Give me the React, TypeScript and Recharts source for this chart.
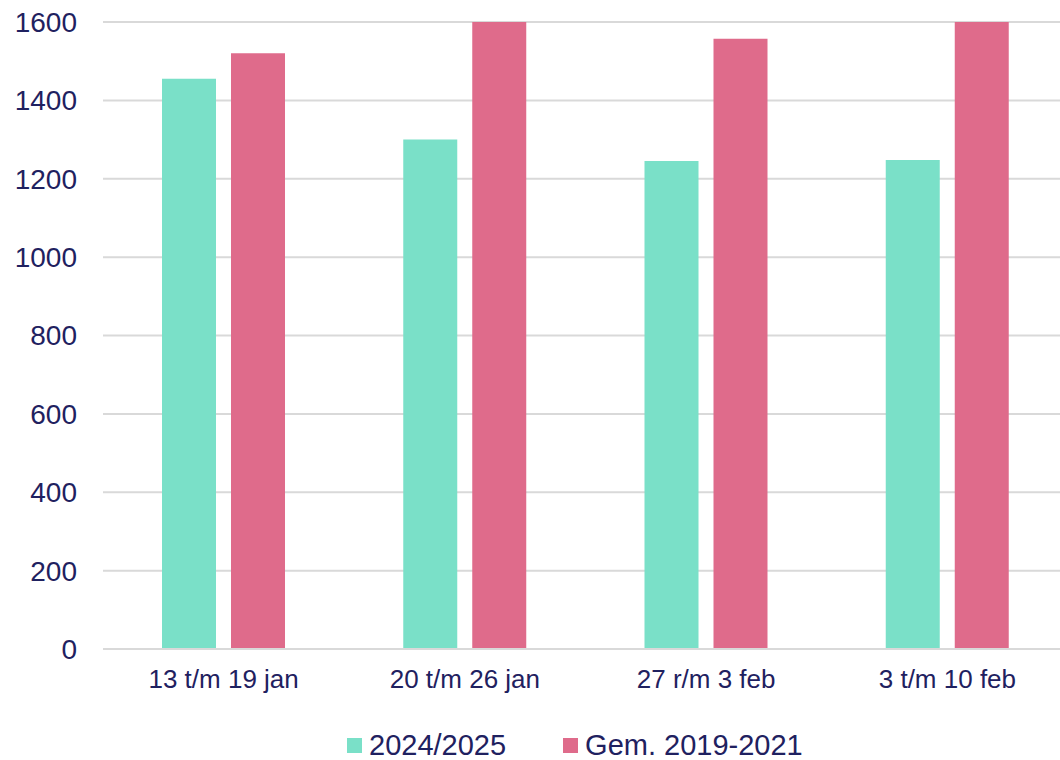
import { BarChart, Bar, XAxis, YAxis, CartesianGrid, Legend } from "recharts"

const weeks = ["13 t/m 19 jan", "20 t/m 26 jan", "27 r/m 3 feb", "3 t/m 10 feb"]
const current = [1455, 1300, 1245, 1248]
const average = [1520, 1600, 1557, 1600]
const yTicks = [0, 200, 400, 600, 800, 1000, 1200, 1400, 1600]

const series = [
  { key: "current", name: "2024/2025", color: "#7ae0c8" },
  { key: "average", name: "Gem. 2019-2021", color: "#df6b8b" },
]

const data = weeks.map((week, i) => ({
  week,
  current: current[i],
  average: average[i],
}))

const ink = "#1f2160"
const font = "Arial, 'Liberation Sans', sans-serif"

function LegendContent() {
  return (
    <div style={{ display: "flex", paddingLeft: 347, height: 30, alignItems: "center", fontFamily: font }}>
      {series.map(s => (
        <div key={s.key} style={{ display: "flex", alignItems: "center", marginRight: 57 }}>
          <div style={{ width: 15, height: 15, background: s.color, marginRight: 7 }}></div>
          <span style={{ fontSize: 29, color: ink, lineHeight: "30px" }}>{s.name}</span>
        </div>
      ))}
    </div>
  )
}

export default function App() {
  return (
    <div style={{ position: "absolute", left: 0, top: 0, width: 1060, height: 760, overflow: "hidden", background: "#fff" }}>
      <BarChart
        width={1068}
        height={760}
        data={data}
        margin={{ top: 22, right: 0, left: 0, bottom: 21 }}
        barSize={54}
        barGap={15}
      >
        <CartesianGrid vertical={false} stroke="#d9d9d9" strokeWidth={2} />
        <XAxis
          dataKey="week"
          height={60}
          tickSize={0}
          tickMargin={21}
          tickLine={false}
          axisLine={{ stroke: "#d9d9d9", strokeWidth: 2 }}
          tick={{ fill: ink, fontSize: 26, fontFamily: font }}
        />
        <YAxis
          width={103}
          domain={[0, 1600]}
          ticks={yTicks}
          allowDataOverflow
          tickSize={0}
          tickMargin={26}
          tickLine={false}
          axisLine={false}
          tick={{ fill: ink, fontSize: 28, fontFamily: font }}
        />
        <Legend verticalAlign="bottom" wrapperStyle={{ left: 0, bottom: 0, width: 1068 }} content={() => <LegendContent />} />
        {series.map(s => (
          <Bar key={s.key} dataKey={s.key} name={s.name} fill={s.color} isAnimationActive={false} />
        ))}
      </BarChart>
    </div>
  )
}
